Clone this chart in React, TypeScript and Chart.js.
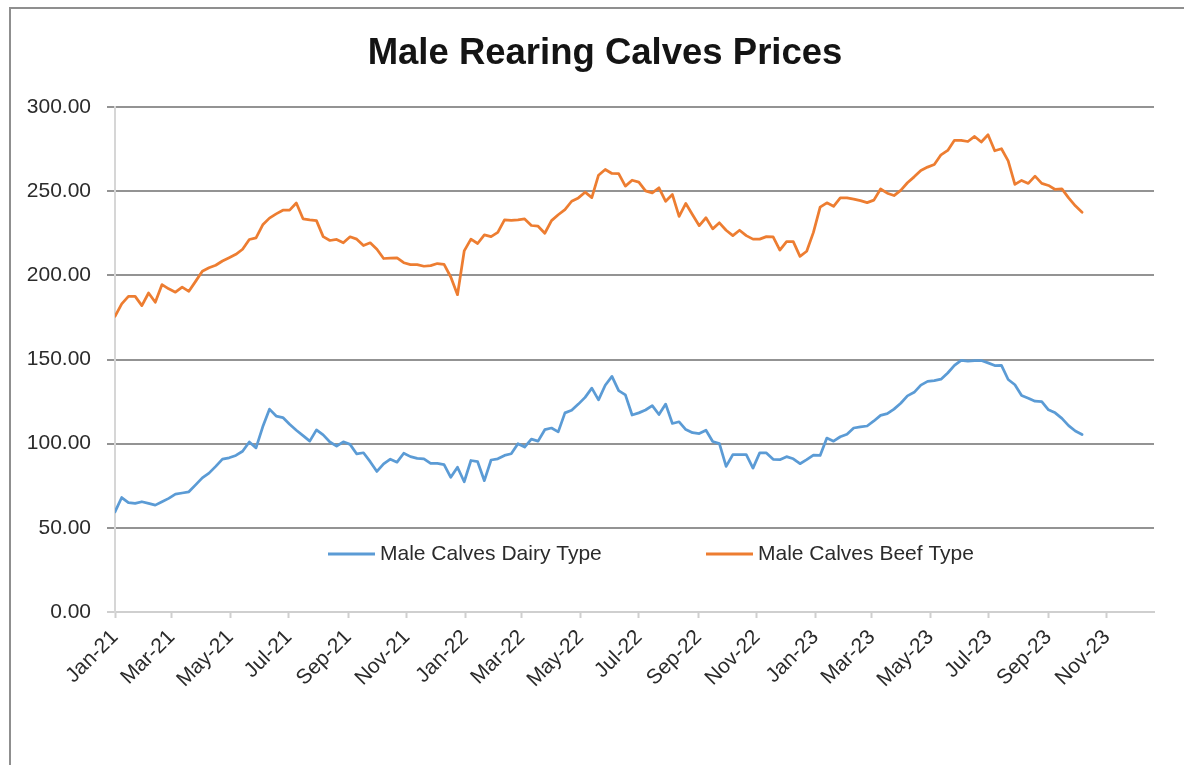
import { useEffect, useRef } from 'react';
import { Chart, registerables } from 'chart.js';

Chart.register(...registerables);

// ---- data ----
const seriesStart = '2021-01-01'; // first weekly observation
const axisEnd = '2023-12-20';

const dairyType = [
  59.5, 68, 65, 64.5, 65.5, 64.5, 63.5, 65.5, 67.5, 70,
  70.7, 71.4, 75.5, 79.7, 82.5, 86.5, 90.8, 91.6, 93, 95.5,
  101, 97.5, 110, 120.5, 116.4, 115.5, 111.5, 108, 104.8, 101.5,
  108.2, 105.2, 101, 98.5, 101.1, 99.6, 93.9, 94.6, 89.3, 83.5,
  88, 90.8, 89, 94.3, 92.3, 91.3, 91, 88.3, 88.3, 87.5,
  80, 86, 77.4, 90, 89.3, 78, 90.3, 91, 93, 94,
  100, 98, 102.7, 101.5, 108.3, 109.3, 107, 118.3, 119.8, 123.5,
  127.5, 133, 126, 134.7, 140, 131.5, 129, 117, 118.3, 120,
  122.6, 117.3, 123.5, 112, 113, 108.4, 106.5, 106, 108, 101.3,
  100, 86.5, 93.5, 93.5, 93.5, 85.5, 94.5, 94.5, 90.7, 90.5,
  92.3, 91, 88.1, 90.5, 93.2, 93, 103.3, 101.5, 104.1, 105.6,
  109.3, 110, 110.5, 113.5, 116.8, 117.8, 120.5, 124, 128.4, 130.5,
  134.8, 137, 137.4, 138.3, 142, 146.5, 149.5, 149, 149.3, 149.4,
  148, 146.4, 146.5, 138.1, 135, 128.6, 127, 125.2, 125, 120.1,
  118.3, 115, 110.7, 107.5, 105.4,
];

const beefType = [
  175.6, 183, 187.5, 187.5, 182, 189.5, 184, 194.5, 192, 190,
  193, 190.5, 196.4, 202.4, 204.5, 206, 208.5, 210.5, 212.5, 215.5,
  221.3, 222.3, 230, 234, 236.5, 238.7, 238.7, 243, 233.6, 233,
  232.5, 223, 220.7, 221.3, 219.3, 222.9, 221.5, 217.7, 219.3, 215.5,
  210, 210.2, 210.4, 207.5, 206.4, 206.4, 205.4, 205.8, 207, 206.5,
  199, 188.5, 214.5, 221.5, 218.9, 224, 223, 225.5, 233, 232.6,
  233, 233.5, 229.6, 229.2, 225, 232.5, 236, 239, 244, 246,
  249.4, 246.2, 259.5, 262.9, 260.5, 260.4, 253, 256.5, 255.4, 250.2,
  249, 252, 244, 248, 235, 242.7, 236, 229.5, 234.2, 227.6,
  231.2, 226.8, 223.6, 226.8, 223.6, 221.5, 221.5, 223, 222.9, 215,
  220, 220, 211.3, 214.3, 225.5, 240.5, 243.1, 241, 246, 246,
  245.3, 244.4, 243.2, 244.7, 251.3, 248.8, 247.4, 250.5, 255, 258.5,
  262.3, 264.3, 265.8, 271.6, 274.2, 280.2, 280.2, 279.5, 282.5, 279.2,
  283.5, 274, 275.2, 268, 254, 256.4, 254.6, 258.9, 254.6, 253.4,
  251, 251.4, 246, 241.3, 237.5,
];

const tickDates = [
  '2021-01-01', '2021-03-01', '2021-05-01', '2021-07-01', '2021-09-01', '2021-11-01',
  '2022-01-01', '2022-03-01', '2022-05-01', '2022-07-01', '2022-09-01', '2022-11-01',
  '2023-01-01', '2023-03-01', '2023-05-01', '2023-07-01', '2023-09-01', '2023-11-01',
];
const tickLabels = [
  'Jan-21', 'Mar-21', 'May-21', 'Jul-21', 'Sep-21', 'Nov-21',
  'Jan-22', 'Mar-22', 'May-22', 'Jul-22', 'Sep-22', 'Nov-22',
  'Jan-23', 'Mar-23', 'May-23', 'Jul-23', 'Sep-23', 'Nov-23',
];
const yTicks = [0, 50, 100, 150, 200, 250, 300];

const seriesLabels = ['Male Calves Dairy Type', 'Male Calves Beef Type'];
const titleText = 'Male Rearing Calves Prices';

// ---- helpers ----
const DAY_MS = 86400000;
const dayOf = (iso: string) => (Date.parse(iso) - Date.parse(seriesStart)) / DAY_MS;
const weekDay = (i: number) => i * 7; // weekly observations

const FONT = "'Liberation Sans', Arial, sans-serif";
const TEXT = '#2b2b2b';
const GRID = '#939393';
const AXIS = '#cfcfcf';
const legendOffsets = [213, 591]; // px from chart-area left

// Title centred on the whole chart object (which extends past the viewport)
const chartTitle = {
  id: 'chartTitle',
  afterDraw(chart: any) {
    const { ctx, width } = chart;
    ctx.save();
    ctx.fillStyle = '#141414';
    ctx.font = `bold 36.5px ${FONT}`;
    ctx.textAlign = 'center';
    ctx.textBaseline = 'middle';
    ctx.fillText(titleText, width / 2, 44);
    ctx.restore();
  },
};

const inlineLegend = {
  id: 'inlineLegend',
  afterDraw(chart: any) {
    const { ctx, chartArea } = chart;
    const y = chartArea.bottom - 58;
    chart.data.datasets.forEach((ds: any, i: number) => {
      const x0 = chartArea.left + legendOffsets[i];
      ctx.save();
      ctx.strokeStyle = ds.borderColor;
      ctx.lineWidth = 3;
      ctx.beginPath();
      ctx.moveTo(x0, y);
      ctx.lineTo(x0 + 47, y);
      ctx.stroke();
      ctx.fillStyle = TEXT;
      ctx.font = `21px ${FONT}`;
      ctx.textBaseline = 'middle';
      ctx.textAlign = 'left';
      ctx.fillText(ds.label, x0 + 52, y);
      ctx.restore();
    });
  },
};

export default function App() {
  const ref = useRef<HTMLCanvasElement | null>(null);

  useEffect(() => {
    if (!ref.current) return;
    const chart = new Chart(ref.current, {
      type: 'line',
      data: {
        datasets: [
          {
            label: seriesLabels[0],
            data: dairyType.map((v, i) => ({ x: weekDay(i), y: v })),
            borderColor: '#5B9BD5',
            backgroundColor: '#5B9BD5',
            borderWidth: 2.75,
            pointRadius: 0,
            tension: 0,
            fill: false,
            borderJoinStyle: 'round',
            borderCapStyle: 'round',
          },
          {
            label: seriesLabels[1],
            data: beefType.map((v, i) => ({ x: weekDay(i), y: v })),
            borderColor: '#ED7D31',
            backgroundColor: '#ED7D31',
            borderWidth: 2.75,
            pointRadius: 0,
            tension: 0,
            fill: false,
            borderJoinStyle: 'round',
            borderCapStyle: 'round',
          },
        ],
      },
      options: {
        responsive: false,
        animation: false,
        layout: { padding: { left: 0, right: 46, top: 97, bottom: 0 } },
        plugins: {
          legend: { display: false },
          tooltip: { enabled: false },
          title: { display: false },
        },
        scales: {
          x: {
            type: 'linear',
            min: 0,
            max: dayOf(axisEnd),
            afterBuildTicks: (s: any) => {
              s.ticks = tickDates.map((d) => ({ value: dayOf(d) }));
            },
            afterFit: (s: any) => {
              s.height = 153;
            },
            ticks: {
              autoSkip: false,
              minRotation: 45,
              maxRotation: 45,
              padding: 7,
              color: TEXT,
              font: { family: FONT, size: 21 },
              callback: (_v: any, i: number) => tickLabels[i],
            },
            grid: {
              drawOnChartArea: false,
              drawTicks: true,
              tickLength: 6,
              tickColor: AXIS,
              tickWidth: 2,
            },
            border: { color: AXIS, width: 2 },
          },
          y: {
            min: 0,
            max: 300,
            afterBuildTicks: (s: any) => {
              s.ticks = yTicks.map((v) => ({ value: v }));
            },
            afterFit: (s: any) => {
              s.width = 105;
            },
            ticks: {
              padding: 16,
              color: TEXT,
              font: { family: FONT, size: 21 },
              callback: (v: any) => Number(v).toFixed(2),
            },
            grid: {
              color: (c: any) => (c.tick && c.tick.value === 0 ? 'rgba(0,0,0,0)' : GRID),
              lineWidth: 2,
              tickLength: 8,
              tickColor: (c: any) => (c.tick && c.tick.value === 0 ? AXIS : GRID),
              tickWidth: 2,
            },
            border: { color: '#d6d6d6', width: 2 },
          },
        },
      },
      plugins: [inlineLegend, chartTitle],
    } as any);
    return () => chart.destroy();
  }, []);

  return (
    <div
      style={{
        position: 'fixed',
        left: 0,
        top: 0,
        width: 1184,
        height: 765,
        overflow: 'hidden',
        background: '#ffffff',
      }}
    >
      <div
        style={{
          position: 'absolute',
          left: 9,
          top: 7,
          width: 1300,
          height: 900,
          border: '2px solid #8f8f8f',
          boxSizing: 'border-box',
        }}
      />
      <canvas
        ref={ref}
        width={1190}
        height={755}
        style={{ position: 'absolute', left: 10, top: 10, width: 1190, height: 755 }}
      />
    </div>
  );
}
